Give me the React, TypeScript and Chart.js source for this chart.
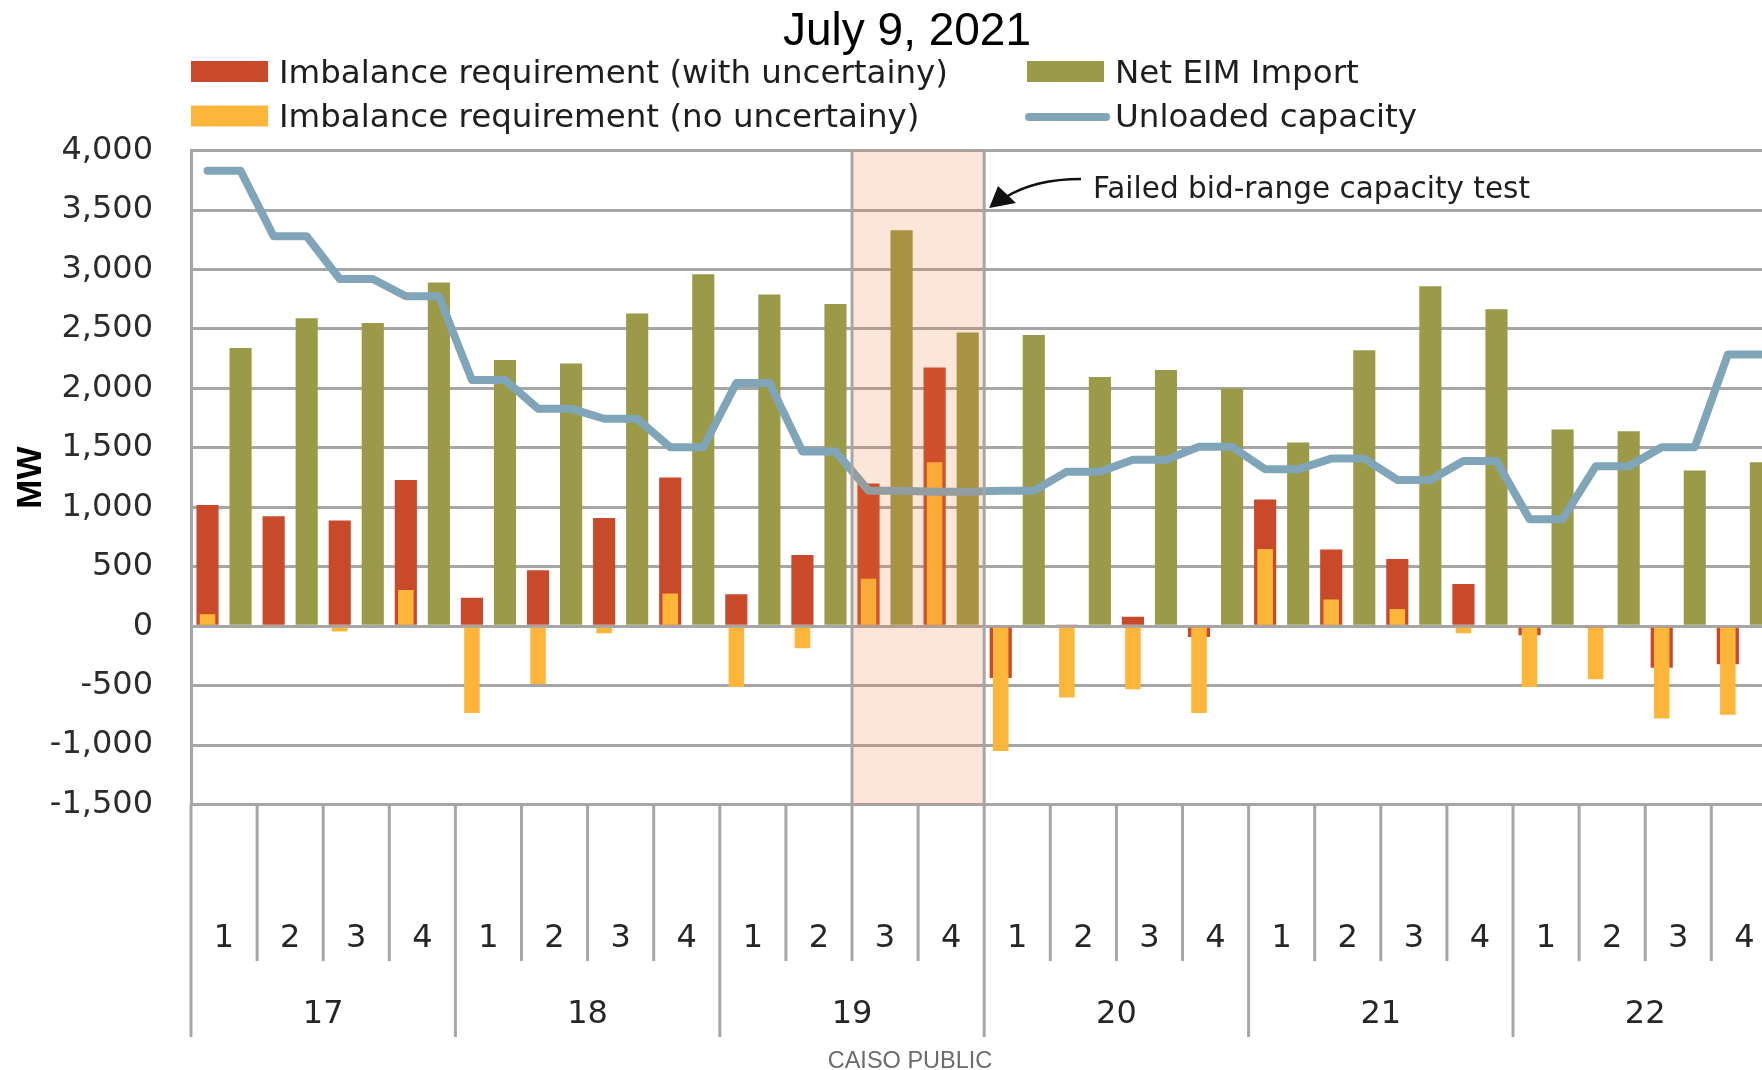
import React, { useEffect, useRef } from 'react';
import { Chart, registerables } from 'chart.js';

Chart.register(...registerables);

// ---------------- data ----------------
const TITLE = 'July 9, 2021';
const HOURS = ['17', '18', '19', '20', '21', '22'];
const INTERVALS = ['1', '2', '3', '4'];

const withUncertainty = [1020, 925, 890, 1230, 240, 470, 910, 1250, 270, 600, 1200, 2175, -435, 15, 80, -90, 1065, 645, 565, 355, -75, -10, -350, -320];
const noUncertainty = [100, -15, -45, 305, -730, -485, -60, 275, -510, -185, 400, 1380, -1050, -600, -530, -730, 650, 225, 145, -60, -510, -445, -775, -745];
const netEimImport = [2340, 2590, 2550, 2890, 2240, 2210, 2630, 2960, 2790, 2710, 3330, 2470, 2450, 2095, 2155, 2000, 1545, 2320, 2860, 2665, 1655, 1640, 1310, 1380];
const unloadedCapacity = [3830, 3280, 2920, 2775, 2070, 1830, 1745, 1505, 2045, 1470, 1140, 1130, 1140, 1300, 1400, 1510, 1320, 1410, 1230, 1390, 900, 1345, 1505, 2285];

const Y_MIN = -1500;
const Y_MAX = 4000;
const Y_STEP = 500;
const Y_TITLE = 'MW';

const FAILED_HOUR = '19';
const FAILED_INTERVALS = ['3', '4'];
const ANNOTATION = 'Failed bid-range capacity test';
const FOOTER = 'CAISO PUBLIC';

const LABEL_WITH = 'Imbalance requirement (with uncertainy)';
const LABEL_NO = 'Imbalance requirement (no uncertainy)';
const LABEL_EIM = 'Net EIM Import';
const LABEL_CAP = 'Unloaded capacity';

// ---------------- styles ----------------
const RED = '#c94a2a';
const YELLOW = '#feb63a';
const GREEN = '#9b9a49';
const LINE = '#80a5b8';
const GRID = '#a6a6a6';
const TEXT = '#1e1e1e';
const SHADE = 'rgba(233,116,46,0.18)';

const CANVAS_W = 1800;
const CANVAS_H = 1070;
const PLOT_TOP = 150.6;
const PLOT_BOTTOM = 804.6;
const PLOT_LEFT = 191;
const PLOT_RIGHT = 1777.4;

const FONT_MAIN = '"DejaVu Sans", Verdana, sans-serif';
const FONT_ARIAL = '"Liberation Sans", Arial, sans-serif';

// ---------------- derived tables ----------------
const cats = HOURS.flatMap((h) => INTERVALS.map((q) => `${h}-${q}`));
const slotLabels = cats.flatMap((c) => [`${c} imbalance`, `${c} EIM`]);
const redData = cats.flatMap((_, i) => [withUncertainty[i], null]);
const yellowData = cats.flatMap((_, i) => [noUncertainty[i], null]);
const greenData = cats.flatMap((_, i) => [null, netEimImport[i]]);
const lineData = cats.flatMap((_, i) => [unloadedCapacity[i], unloadedCapacity[i]]);

const failedCats = FAILED_INTERVALS.map((q) => cats.indexOf(`${FAILED_HOUR}-${q}`));

const customPlugin = {
  id: 'customDraw',
  beforeDraw(chart: any) {
    const { ctx, width, height } = chart;
    ctx.save();
    ctx.fillStyle = '#ffffff';
    ctx.fillRect(0, 0, width, height);
    ctx.restore();
  },
  afterDatasetsDraw(chart: any) {
    const { ctx, chartArea: a, scales } = chart;
    const x = scales.x;
    const n = slotLabels.length;
    const slot = x.width / n;
    const bound = (c: number) =>
      2 * c >= n ? x.getPixelForValue(n - 1) + slot / 2 : x.getPixelForValue(2 * c) - slot / 2;

    ctx.save();
    // shaded failed area
    const c0 = Math.min(...failedCats);
    const c1 = Math.max(...failedCats) + 1;
    const sx0 = bound(c0);
    const sx1 = bound(c1);
    ctx.fillStyle = SHADE;
    ctx.fillRect(sx0, a.top, sx1 - sx0, a.bottom - a.top);
    ctx.strokeStyle = GRID;
    ctx.lineWidth = 3;
    [sx0, sx1].forEach((px) => {
      ctx.beginPath();
      ctx.moveTo(px, a.top);
      ctx.lineTo(px, a.bottom);
      ctx.stroke();
    });

    // x axis separators and labels
    const intervalEnd = 961;
    const hourEnd = 1037;
    for (let c = 0; c <= cats.length; c++) {
      const px = bound(c);
      ctx.beginPath();
      ctx.moveTo(px, a.bottom);
      ctx.lineTo(px, c % INTERVALS.length === 0 ? hourEnd : intervalEnd);
      ctx.stroke();
    }
    ctx.fillStyle = '#262626';
    ctx.textAlign = 'center';
    ctx.textBaseline = 'alphabetic';
    ctx.font = `32px ${FONT_MAIN}`;
    cats.forEach((c, i) => {
      const cx = (bound(i) + bound(i + 1)) / 2;
      ctx.fillText(INTERVALS[i % INTERVALS.length], cx, 947);
    });
    HOURS.forEach((h, hi) => {
      const cx = (bound(hi * INTERVALS.length) + bound((hi + 1) * INTERVALS.length)) / 2;
      ctx.fillText(h, cx, 1023);
    });

    // annotation with arrow
    const tipX = sx1 + 5;
    const tipY = scales.y.getPixelForValue(3500) - 2;
    ctx.strokeStyle = '#111111';
    ctx.fillStyle = '#111111';
    ctx.lineWidth = 2.5;
    ctx.beginPath();
    ctx.moveTo(1081, 179);
    ctx.quadraticCurveTo(1035, 179, 1006, 197);
    ctx.stroke();
    ctx.beginPath();
    ctx.moveTo(tipX, tipY);
    ctx.lineTo(998, 186);
    ctx.lineTo(1016, 203);
    ctx.closePath();
    ctx.fill();
    ctx.fillStyle = TEXT;
    ctx.textAlign = 'left';
    ctx.font = `29.5px ${FONT_MAIN}`;
    ctx.fillText(ANNOTATION, 1093, 198);

    // legend
    const items = [
      { ds: 2, x: 191, base: 82.5 },
      { ds: 1, x: 191, base: 127 },
      { ds: 3, x: 1027, base: 82.5 },
      { ds: 0, x: 1027, base: 127 },
    ];
    ctx.font = `32.5px ${FONT_MAIN}`;
    items.forEach((it) => {
      const d = chart.data.datasets[it.ds];
      if (d.type === 'line') {
        ctx.strokeStyle = d.borderColor;
        ctx.lineWidth = 8;
        ctx.lineCap = 'round';
        ctx.beginPath();
        ctx.moveTo(it.x + 2, it.base - 10);
        ctx.lineTo(it.x + 79, it.base - 10);
        ctx.stroke();
      } else {
        ctx.fillStyle = d.backgroundColor;
        ctx.fillRect(it.x, it.base - 21.5, 77, 21);
      }
      ctx.fillStyle = TEXT;
      ctx.fillText(d.label, it.x + 88, it.base);
    });

    // title and footer
    ctx.fillStyle = '#000000';
    ctx.textAlign = 'center';
    ctx.font = `46px ${FONT_ARIAL}`;
    ctx.fillText(TITLE, 907, 45);
    ctx.fillStyle = '#6b6b6b';
    ctx.font = `23.5px ${FONT_ARIAL}`;
    ctx.fillText(FOOTER, 910, 1068);
    ctx.restore();
  },
};

export default function App() {
  const ref = useRef<HTMLCanvasElement>(null);

  useEffect(() => {
    if (!ref.current) return;
    const chart = new Chart(ref.current, {
      type: 'bar',
      data: {
        labels: slotLabels,
        datasets: [
          {
            type: 'line',
            label: LABEL_CAP,
            data: lineData,
            borderColor: LINE,
            backgroundColor: LINE,
            borderWidth: 8,
            pointRadius: 0,
            tension: 0,
            borderJoinStyle: 'round',
            borderCapStyle: 'round',
            order: 0,
          } as any,
          {
            label: LABEL_NO,
            data: yellowData,
            backgroundColor: YELLOW,
            barPercentage: 0.47,
            categoryPercentage: 1,
            grouped: false,
            order: 1,
          },
          {
            label: LABEL_WITH,
            data: redData,
            backgroundColor: RED,
            barPercentage: 0.67,
            categoryPercentage: 1,
            grouped: false,
            order: 2,
          },
          {
            label: LABEL_EIM,
            data: greenData,
            backgroundColor: GREEN,
            barPercentage: 0.67,
            categoryPercentage: 1,
            grouped: false,
            order: 3,
          },
        ],
      },
      options: {
        responsive: false,
        animation: false,
        devicePixelRatio: 1,
        layout: {
          padding: {
            left: 0,
            top: PLOT_TOP,
            right: CANVAS_W - PLOT_RIGHT,
            bottom: CANVAS_H - PLOT_BOTTOM,
          },
        },
        plugins: {
          legend: { display: false },
          title: { display: false },
          tooltip: { enabled: false },
        },
        scales: {
          x: {
            type: 'category',
            display: false,
            offset: true,
          },
          y: {
            min: Y_MIN,
            max: Y_MAX,
            afterFit: (scale: any) => {
              scale.width = PLOT_LEFT;
            },
            ticks: {
              stepSize: Y_STEP,
              padding: 38,
              color: '#2b2b2b',
              font: { family: FONT_MAIN, size: 32 },
              callback: (v: any) => Number(v).toLocaleString('en-US'),
            },
            grid: {
              color: GRID,
              lineWidth: 3,
              drawTicks: false,
            },
            border: { display: true, color: GRID, width: 3 },
            title: {
              display: true,
              text: Y_TITLE,
              color: '#000000',
              font: { family: FONT_ARIAL, size: 35, weight: 'bold' },
              padding: { top: 10, bottom: 0 },
            },
          },
        },
      } as any,
      plugins: [customPlugin],
    });
    let alive = true;
    if ((document as any).fonts) {
      Promise.all([
        (document as any).fonts.load(`32px ${FONT_MAIN}`),
        (document as any).fonts.load(`46px ${FONT_ARIAL}`),
        (document as any).fonts.load(`bold 35px ${FONT_ARIAL}`),
      ])
        .then(() => {
          if (alive) chart.update('none');
        })
        .catch(() => {});
    }
    return () => {
      alive = false;
      chart.destroy();
    };
  }, []);

  return (
    <div
      style={{
        position: 'fixed',
        left: 0,
        top: 0,
        width: 1762,
        height: 1070,
        overflow: 'hidden',
        background: '#ffffff',
      }}
    >
      <canvas
        ref={ref}
        width={CANVAS_W}
        height={CANVAS_H}
        style={{ display: 'block', width: CANVAS_W, height: CANVAS_H }}
      />
    </div>
  );
}
